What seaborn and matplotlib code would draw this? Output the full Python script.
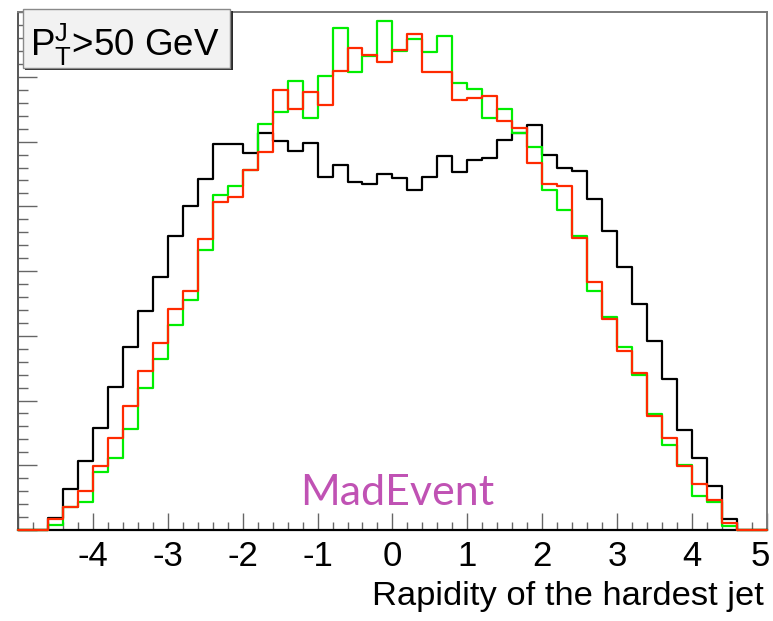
import numpy as np
import pandas as pd
import matplotlib
matplotlib.use("Agg")
import matplotlib.pyplot as plt
from matplotlib.patches import Rectangle
from matplotlib.ticker import MultipleLocator, FixedLocator, FixedFormatter
from matplotlib.transforms import ScaledTranslation
import seaborn as sns

# Binning of the rapidity histogram: 50 bins of width 0.2 between -5 and 5
bin_width = 0.2
bin_range = (-5.0, 5.0)
bin_centers = np.round(np.arange(-4.9, 5.0, bin_width), 2)

# Event counts per bin for the three samples
counts_black = [0, 0, 19, 63, 106, 157, 221, 282, 339, 391,
                455, 500, 542, 596, 596, 583, 614, 601, 586, 598,
                546, 564, 537, 534, 550, 544, 526, 546, 578, 553,
                571, 574, 603, 614, 626, 580, 560, 555, 511, 462,
                406, 349, 292, 234, 154, 111, 68, 17, 0, 0]
counts_green = [0, 0, 7, 35, 44, 90, 112, 156, 219, 264,
                317, 355, 433, 517, 531, 556, 627, 646, 694, 636,
                702, 776, 707, 732, 787, 740, 758, 738, 764, 691,
                681, 636, 651, 613, 591, 525, 494, 454, 370, 329,
                282, 239, 179, 131, 100, 53, 44, 6, 0, 0]
counts_red = [0, 0, 17, 35, 60, 99, 142, 192, 246, 289,
              341, 370, 449, 507, 515, 556, 584, 680, 651, 677,
              657, 709, 745, 734, 723, 741, 766, 708, 708, 664,
              668, 670, 632, 621, 567, 535, 532, 451, 383, 326,
              276, 243, 176, 142, 99, 71, 47, 11, 0, 0]

x_ticks = [-5, -4, -3, -2, -1, 0, 1, 2, 3, 4, 5]
x_tick_labels = ["", "-4", "-3", "-2", "-1", "0", "1", "2", "3", "4", "5"]

sns.set_theme(style="white")
plt.rcParams["font.family"] = ["Liberation Sans", "DejaVu Sans"]
plt.rcParams["mathtext.default"] = "regular"

W, H = 773, 621
fig = plt.figure(figsize=(W / 100, H / 100), dpi=100, facecolor="white")
ax = fig.add_axes([18.3 / W, (H - 530) / H, (766.5 - 18.3) / W, (530 - 12.2) / H])
ax.set_facecolor("white")

for vals, col in [(counts_black, "black"), (counts_green, "#00ee00"), (counts_red, "#ff2a00")]:
    df = pd.DataFrame({"rapidity": bin_centers, "events": vals})
    sns.histplot(data=df, x="rapidity", weights="events", binwidth=bin_width,
                 binrange=bin_range, element="step", fill=False, color=col,
                 linewidth=1.6, ax=ax)

# keep the histogram outlines visible on top of the frame along the baseline
for ln in ax.lines:
    ln.set_zorder(3)
    ln.set_clip_on(False)

ax.set_xlim(-5, 5)
ax.set_ylim(0, 800)
ax.set_ylabel("")

# x axis: major ticks on integers, minor every 0.2, ticks pointing inward
ax.xaxis.set_major_locator(FixedLocator(x_ticks))
ax.xaxis.set_major_formatter(FixedFormatter(x_tick_labels))
ax.xaxis.set_minor_locator(MultipleLocator(0.2))
ax.tick_params(axis="x", which="major", direction="in", length=12.5, width=1.0,
               color="#666666", labelsize=25, pad=7, bottom=True, top=False,
               labelcolor="black")
ax.tick_params(axis="x", which="minor", direction="in", length=6, width=1.0,
               color="#666666", bottom=True, top=False)

# the last label sits on the right frame edge: nudge it inward
last_label = ax.xaxis.get_major_ticks()[-1].label1
last_label.set_transform(last_label.get_transform()
                         + ScaledTranslation(-6 / 100, 0, fig.dpi_scale_trans))

# y axis: unlabeled ticks
ax.yaxis.set_major_locator(MultipleLocator(100))
ax.yaxis.set_minor_locator(MultipleLocator(20))
ax.tick_params(axis="y", which="major", direction="in", length=13.5, width=1.0,
               color="#666666", labelleft=False, left=True, right=False)
ax.tick_params(axis="y", which="minor", direction="in", length=7, width=1.0,
               color="#666666", left=True, right=False)

ax.set_xlabel("Rapidity of the hardest jet", fontsize=24.8, loc="right", color="black")
ax.xaxis.set_label_coords(0.997, -0.098)

for side in ["top", "right"]:
    ax.spines[side].set_color("#7a7a7a")
    ax.spines[side].set_linewidth(1.4)
ax.spines["left"].set_color("#555555")
ax.spines["left"].set_linewidth(1.4)
ax.spines["bottom"].set_color("black")
ax.spines["bottom"].set_linewidth(1.6)

# Cut label in a shaded box
bx0, bx1, by_top, by_bot = 22.7, 230.0, 8.7, 67.5
fig.patches.append(Rectangle(((bx0 + 2.5) / W, (H - by_bot - 2.5) / H),
                             (bx1 - bx0) / W, (by_bot - by_top) / H,
                             transform=fig.transFigure, facecolor="#2a2a2a",
                             edgecolor="none", zorder=5))
fig.patches.append(Rectangle((bx0 / W, (H - by_bot) / H),
                             (bx1 - bx0) / W, (by_bot - by_top) / H,
                             transform=fig.transFigure, facecolor="#f2f2f2",
                             edgecolor="#8a8a8a", linewidth=1.0, zorder=6))
fig.text(30.5 / W, (H - 56.0) / H, r"$\mathregular{P_T^J}$>50 GeV", fontsize=26.5,
         ha="left", va="baseline", color="black", zorder=7)

ax.text(0.507, 0.048, "MadEvent", transform=ax.transAxes, fontsize=31,
        family=["Lato", "DejaVu Sans"], color="#c052b4", ha="center", va="baseline")

fig.savefig("out.png", dpi=100, facecolor="white")
